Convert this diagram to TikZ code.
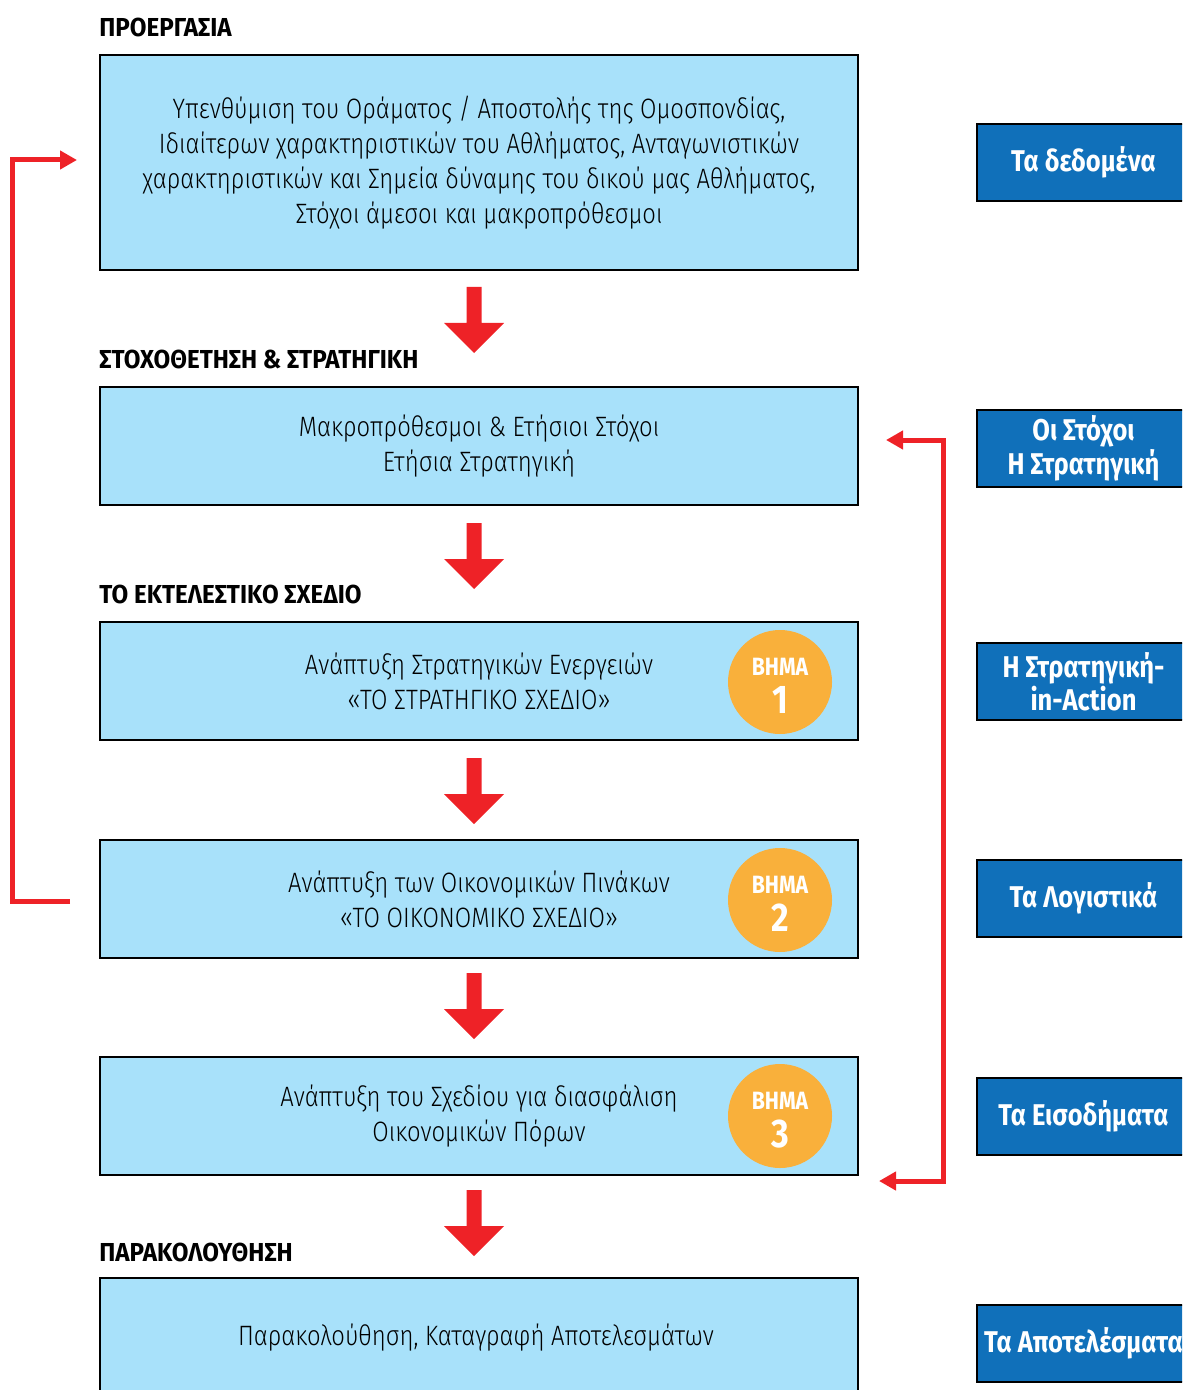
\documentclass[tikz,border=0pt]{standalone}
\usepackage{fontspec}
\setmainfont{Fira Sans}[FakeStretch=0.85]
\newfontfamily\lightfont{Fira Sans Light}[FakeStretch=0.85]
\newfontfamily\headfont{Fira Sans}[FakeStretch=0.93]
\usetikzlibrary{arrows.meta}
\definecolor{lblue}{HTML}{A8E1FA}
\definecolor{dblue}{HTML}{1070BA}
\definecolor{orng}{HTML}{F9B03B}
\definecolor{rred}{HTML}{EE2227}
\begin{document}
\begin{tikzpicture}[x=0.5pt,y=-0.5pt,
  mainbox/.style={draw=black, line width=1.25pt, fill=lblue, minimum width=379pt, inner sep=0pt, align=center, font=\lightfont\fontsize{14}{17.5}\selectfont},
  head/.style={anchor=west, inner sep=0pt, font=\headfont\bfseries\fontsize{13}{14}\selectfont},
  rbox/.style={draw=black, line width=1pt, fill=dblue, text=white, minimum width=106.5pt, minimum height=38.5pt, inner sep=0pt, align=center, font=\bfseries\fontsize{15}{15.5}\selectfont},
  step circle/.style={circle, fill=orng, minimum size=52pt, inner sep=0pt},
  steplbl/.style={text=white, inner sep=0pt, font=\bfseries\fontsize{12.5}{14}\selectfont},
  stepnum/.style={text=white, inner sep=0pt, font=\bfseries\fontsize{20}{20}\selectfont},
  fb/.style={draw=rred, line width=2.5pt, -{Triangle[length=8.5pt,width=9pt]}},
  fbb/.style={draw=rred, line width=2.5pt, {Triangle[length=8.5pt,width=9pt]}-{Triangle[length=8.5pt,width=9pt]}},
  downarrow/.pic={\fill[rred] (-7.5,0) -- (7.5,0) -- (7.5,36) -- (30,36) -- (0,66) -- (-30,36) -- (-7.5,36) -- cycle;}
]
\useasboundingbox (0,0) rectangle (1182,1390);
\clip (0,0) rectangle (1182,1390);

% headers
\node[head] (h1) at (99,27) {ΠΡΟΕΡΓΑΣΙΑ};
\node[head] (h2) at (99,359) {ΣΤΟΧΟΘΕΤΗΣΗ \& ΣΤΡΑΤΗΓΙΚΗ};
\node[head] (h3) at (99,594) {ΤΟ ΕΚΤΕΛΕΣΤΙΚΟ ΣΧΕΔΙΟ};
\node[head] (h4) at (99,1252) {ΠΑΡΑΚΟΛΟΥΘΗΣΗ};

% main boxes
\node[mainbox, minimum height=107.5pt] (b1) at (479,162.5) {Υπενθύμιση του Οράματος / Αποστολής της Ομοσπονδίας,\\Ιδιαίτερων χαρακτηριστικών του Αθλήματος, Ανταγωνιστικών\\χαρακτηριστικών και Σημεία δύναμης του δικού μας Αθλήματος,\\Στόχοι άμεσοι και μακροπρόθεσμοι};
\node[mainbox, minimum height=59pt] (b2) at (479,446) {Μακροπρόθεσμοι \& Ετήσιοι Στόχοι\\Ετήσια Στρατηγική};
\node[mainbox, minimum height=59pt] (b3) at (479,681) {Ανάπτυξη Στρατηγικών Ενεργειών\\«ΤΟ ΣΤΡΑΤΗΓΙΚΟ ΣΧΕΔΙΟ»};
\node[mainbox, minimum height=59pt] (b4) at (479,899) {Ανάπτυξη των Οικονομικών Πινάκων\\«ΤΟ ΟΙΚΟΝΟΜΙΚΟ ΣΧΕΔΙΟ»};
\node[mainbox, minimum height=59pt] (b5) at (479,1116) {Ανάπτυξη του Σχεδίου για διασφάλιση\\Οικονομικών Πόρων};
\node[mainbox, minimum height=70pt] (b6) at (479,1348) {};
\node[inner sep=0pt, font=\lightfont\fontsize{14}{17.5}\selectfont] (t6) at (476,1338) {Παρακολούθηση, Καταγραφή Αποτελεσμάτων};

% step circles
\foreach \n/\y in {1/682,2/900,3/1116}{
  \node[step circle] (c\n) at (780,\y) {};
  \node[steplbl] (cl\n) at (780,\y-15) {ΒΗΜΑ};
  \node[stepnum] (cn\n) at (780,\y+18) {\n};
}

% down arrows
\pic at (474,287) {downarrow};
\pic at (474,523) {downarrow};
\pic at (474,758) {downarrow};
\pic at (474,973) {downarrow};
\pic at (474,1190) {downarrow};

% feedback loops
\coordinate (l0) at (70,901);
\coordinate (l1) at (77,160);
\draw[fb] (l0) -- (12,901) -- (12,160) -- (l1);
\coordinate (r0) at (886,440);
\coordinate (r1) at (879,1181);
\draw[fbb] (r0) -- (943,440) -- (943,1181) -- (r1);

% right boxes
\node[rbox] (r1b) at (1083.5,162.5) {Τα δεδομένα};
\node[rbox] (r2b) at (1083.5,448.5) {Οι Στόχοι\\Η Στρατηγική};
\node[rbox] (r3b) at (1083.5,681.5) {Η Στρατηγική-\\in-Action};
\node[rbox] (r4b) at (1083.5,898.5) {Τα Λογιστικά};
\node[rbox] (r5b) at (1083.5,1116.5) {Τα Εισοδήματα};
\node[rbox] (r6b) at (1083.5,1343.5) {Τα Αποτελέσματα};
\end{tikzpicture}
\end{document}
